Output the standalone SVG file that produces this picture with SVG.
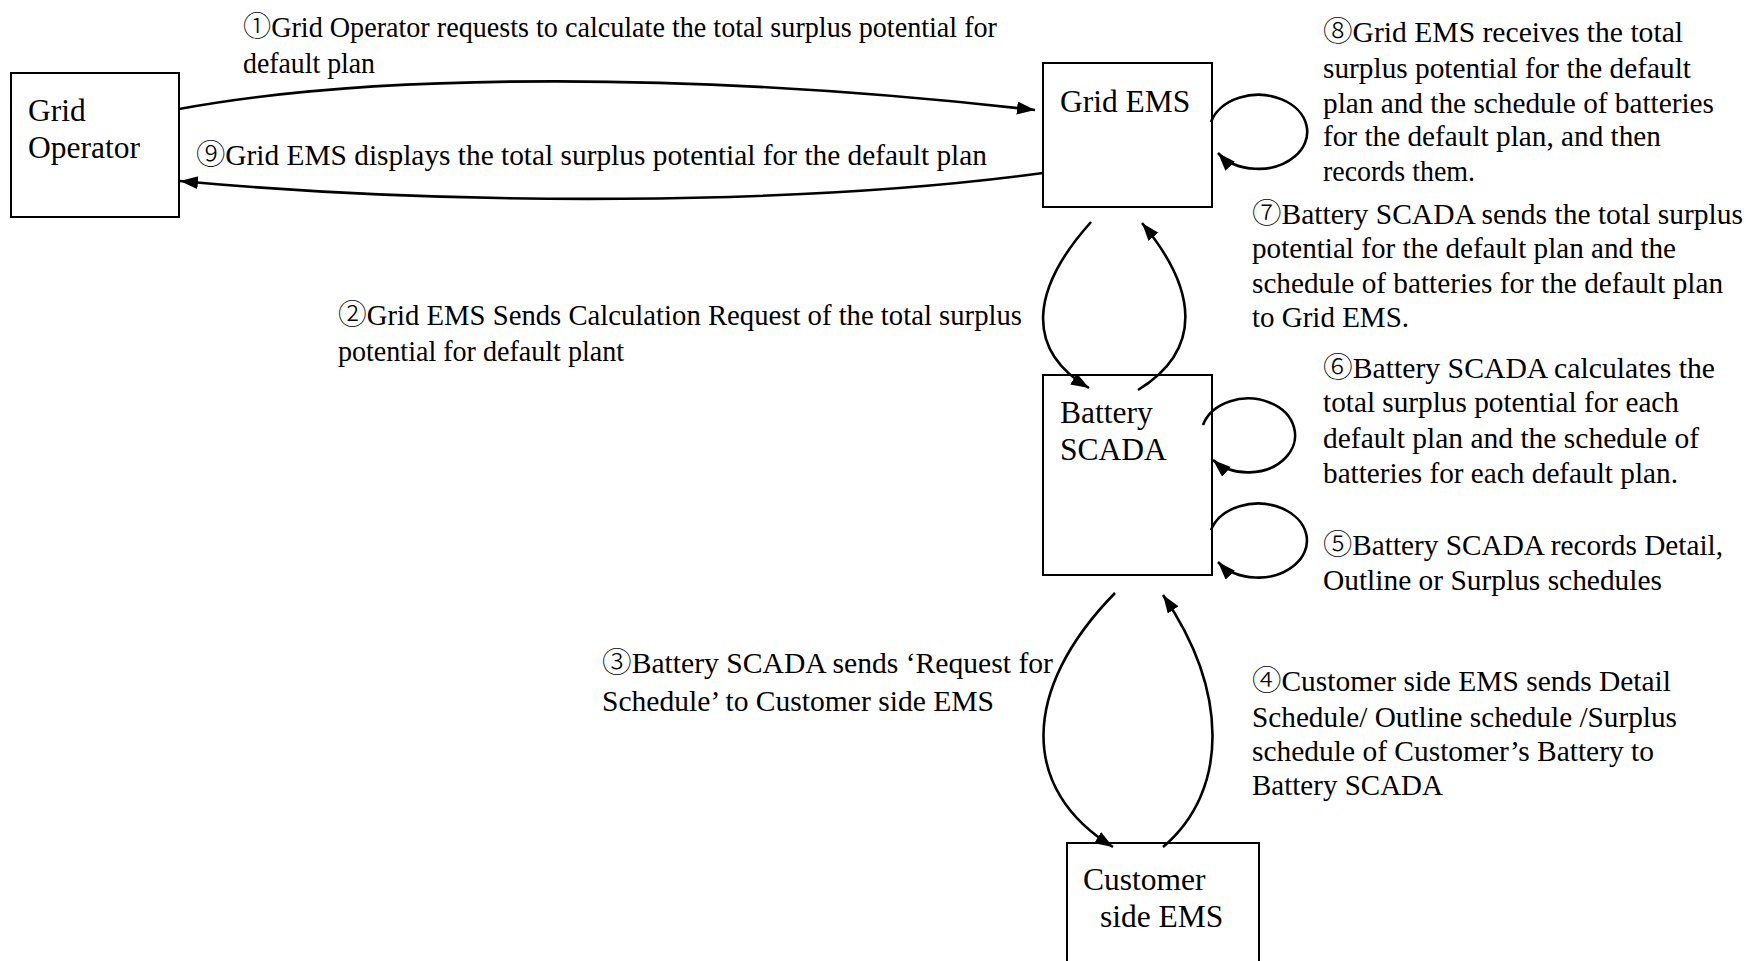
<svg xmlns="http://www.w3.org/2000/svg" width="1746" height="961" viewBox="0 0 1746 961">
  <style>
    .box { fill: #ffffff; stroke: #000000; stroke-width: 2; }
    .node-text { font-family: "Liberation Serif", "Times New Roman", serif; font-size: 31.5px; fill: #000000; }
    .label { font-family: "Liberation Serif", "Times New Roman", "Noto Sans CJK JP", serif; font-size: 29px; fill: #000000; }
    .num { font-family: "Noto Sans CJK JP", "Noto Sans CJK SC", sans-serif; font-weight: 300; }
    .edge { fill: none; stroke: #000000; stroke-width: 2.6; marker-end: url(#arrow); }
  </style>
  <defs>
    <marker id="arrow" markerUnits="userSpaceOnUse" markerWidth="20" markerHeight="14" refX="18" refY="6.5" orient="auto">
      <path d="M0,0 L18,6.5 L0,13 Z" fill="#000000"/>
    </marker>
  </defs>

  <rect width="1746" height="961" fill="#ffffff"/>

  <!-- nodes -->
  <g id="grid-operator">
    <rect class="box" x="11" y="73" width="168" height="144"/>
    <text class="node-text" x="28" y="121">Grid</text>
    <text class="node-text" x="28" y="158">Operator</text>
  </g>
  <g id="grid-ems">
    <rect class="box" x="1043" y="63" width="169" height="144"/>
    <text class="node-text" x="1060" y="112">Grid EMS</text>
  </g>
  <g id="battery-scada">
    <rect class="box" x="1043" y="375" width="169" height="200"/>
    <text class="node-text" x="1060" y="423">Battery</text>
    <text class="node-text" x="1060" y="460">SCADA</text>
  </g>
  <g id="customer-side-ems">
    <rect class="box" x="1067" y="843" width="192" height="130"/>
    <text class="node-text" x="1083" y="890">Customer</text>
    <text class="node-text" x="1100" y="927">side EMS</text>
  </g>

  <!-- connectors -->
  <g id="connectors">
    <!-- 1: Grid Operator to Grid EMS -->
    <path class="edge" d="M179,109 C380,72 700,72 1035,110"/>
    <!-- 9: Grid EMS to Grid Operator -->
    <path class="edge" d="M1043,173 C800,206 450,206 180,181"/>
    <!-- 2: Grid EMS to Battery SCADA -->
    <path class="edge" d="M1091,222 C1030,290 1025,350 1089,388"/>
    <!-- 7: Battery SCADA to Grid EMS -->
    <path class="edge" d="M1138,390 C1203,350 1198,290 1142,223"/>
    <!-- 3: Battery SCADA to Customer side EMS -->
    <path class="edge" d="M1115,593 C1020,690 1020,790 1113,847"/>
    <!-- 4: Customer side EMS to Battery SCADA -->
    <path class="edge" d="M1163,847 C1230,790 1228,690 1163,595"/>
    <!-- 8: Grid EMS self loop -->
    <path class="edge" d="M1211,122 A49,37 0 1 1 1218,153"/>
    <!-- 6: Battery SCADA self loop (upper) -->
    <path class="edge" d="M1203,425 A47,37 0 1 1 1213,460"/>
    <!-- 5: Battery SCADA self loop (lower) -->
    <path class="edge" d="M1211,530 A49,37 0 1 1 1218,562"/>
  </g>

  <!-- step labels -->
  <g id="labels" lengthAdjust="spacingAndGlyphs">
    <text class="label" x="243" y="37" textLength="754" lengthAdjust="spacingAndGlyphs"><tspan class="num">①</tspan>Grid Operator requests to calculate the total surplus potential for</text>
    <text class="label" x="243" y="73" textLength="132" lengthAdjust="spacingAndGlyphs">default plan</text>

    <text class="label" x="196" y="165" textLength="791" lengthAdjust="spacingAndGlyphs"><tspan class="num">⑨</tspan>Grid EMS displays the total surplus potential for the default plan</text>

    <text class="label" x="1323" y="42" textLength="360" lengthAdjust="spacingAndGlyphs"><tspan class="num">⑧</tspan>Grid EMS receives the total</text>
    <text class="label" x="1323" y="78" textLength="368" lengthAdjust="spacingAndGlyphs">surplus potential for the default</text>
    <text class="label" x="1323" y="113" textLength="391" lengthAdjust="spacingAndGlyphs">plan and the schedule of batteries</text>
    <text class="label" x="1323" y="146" textLength="338" lengthAdjust="spacingAndGlyphs">for the default plan, and then</text>
    <text class="label" x="1323" y="181" textLength="152" lengthAdjust="spacingAndGlyphs">records them.</text>

    <text class="label" x="1252" y="224" textLength="491" lengthAdjust="spacingAndGlyphs"><tspan class="num">⑦</tspan>Battery SCADA sends the total surplus</text>
    <text class="label" x="1252" y="258" textLength="424" lengthAdjust="spacingAndGlyphs">potential for the default plan and the</text>
    <text class="label" x="1252" y="293" textLength="471" lengthAdjust="spacingAndGlyphs">schedule of batteries for the default plan</text>
    <text class="label" x="1252" y="327" textLength="157" lengthAdjust="spacingAndGlyphs">to Grid EMS.</text>

    <text class="label" x="338" y="325" textLength="684" lengthAdjust="spacingAndGlyphs"><tspan class="num">②</tspan>Grid EMS Sends Calculation Request of the total surplus</text>
    <text class="label" x="338" y="361" textLength="286" lengthAdjust="spacingAndGlyphs">potential for default plant</text>

    <text class="label" x="1323" y="378" textLength="392" lengthAdjust="spacingAndGlyphs"><tspan class="num">⑥</tspan>Battery SCADA calculates the</text>
    <text class="label" x="1323" y="412" textLength="356" lengthAdjust="spacingAndGlyphs">total surplus potential for each</text>
    <text class="label" x="1323" y="448" textLength="376" lengthAdjust="spacingAndGlyphs">default plan and the schedule of</text>
    <text class="label" x="1323" y="483" textLength="355" lengthAdjust="spacingAndGlyphs">batteries for each default plan.</text>

    <text class="label" x="1323" y="555" textLength="400" lengthAdjust="spacingAndGlyphs"><tspan class="num">⑤</tspan>Battery SCADA records Detail,</text>
    <text class="label" x="1323" y="590" textLength="339" lengthAdjust="spacingAndGlyphs">Outline or Surplus schedules</text>

    <text class="label" x="602" y="673" textLength="451" lengthAdjust="spacingAndGlyphs"><tspan class="num">③</tspan>Battery SCADA sends ‘Request for</text>
    <text class="label" x="602" y="711" textLength="392" lengthAdjust="spacingAndGlyphs">Schedule’ to Customer side EMS</text>

    <text class="label" x="1252" y="691" textLength="419" lengthAdjust="spacingAndGlyphs"><tspan class="num">④</tspan>Customer side EMS sends Detail</text>
    <text class="label" x="1252" y="727" textLength="425" lengthAdjust="spacingAndGlyphs">Schedule/ Outline schedule /Surplus</text>
    <text class="label" x="1252" y="761" textLength="402" lengthAdjust="spacingAndGlyphs">schedule of Customer’s Battery to</text>
    <text class="label" x="1252" y="795" textLength="191" lengthAdjust="spacingAndGlyphs">Battery SCADA</text>
  </g>
</svg>
